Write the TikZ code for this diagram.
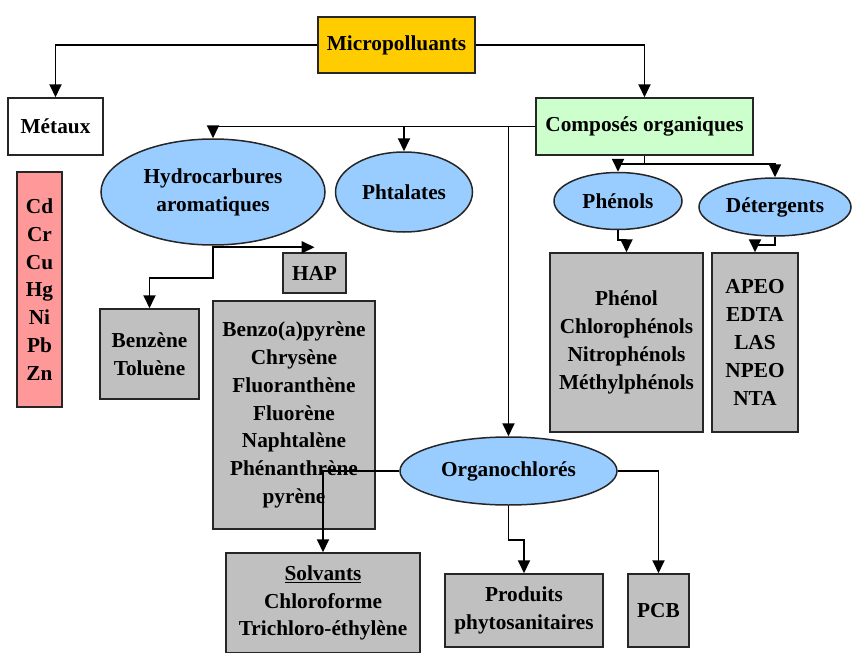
\documentclass[tikz,border=0pt]{standalone}
\usepackage{fontspec}
\setmainfont{Liberation Serif}
\usepackage{tikz}
\usetikzlibrary{shapes.geometric, arrows.meta, positioning}
\definecolor{goldbox}{RGB}{255,204,0}
\definecolor{greenbox}{RGB}{204,255,204}
\definecolor{pinkbox}{RGB}{255,153,153}
\definecolor{greybox}{RGB}{192,192,192}
\definecolor{blueell}{RGB}{153,204,255}
\tikzset{
    box/.style={
        rectangle,
        draw=black!85,
        line width=1.5pt,
        align=center,
        inner sep=0pt
    },
    listbox/.style={
        box,
        fill=greybox
    },
    cloud/.style={
        ellipse,
        draw=black!85,
        line width=1.5pt,
        fill=blueell,
        align=center,
        inner sep=0pt
    },
    conn/.style={
        line width=1.9pt,
        -{Triangle[length=13pt, width=12pt]}
    }
}

\begin{document}
\begin{tikzpicture}[
    x=1pt, y=-1pt,
    every node/.style={font=\fontsize{21.3}{27.8}\selectfont\bfseries}
]
\useasboundingbox (0,0) rectangle (852,653);
% haut
\node[box, fill=goldbox, minimum width=157, minimum height=56] (micro) at (396.5,45) {Micropolluants};
\node[box, fill=white, minimum width=95, minimum height=57] (metaux) at (55.5,126.5) {Métaux};
\node[box, fill=greenbox, minimum width=217, minimum height=57] (comp) at (644.5,126.5) {Composés organiques};
\node[box, fill=pinkbox, minimum width=45, minimum height=235] (metlist) at (39.5,289.5) {Cd\\Cr\\Cu\\Hg\\Ni\\Pb\\Zn};
% familles
\node[cloud, minimum width=224, minimum height=106] (hydro) at (213,192) {Hydrocarbures\\aromatiques};
\node[cloud, minimum width=137, minimum height=80] (phtal) at (404,192) {Phtalates};
\node[cloud, minimum width=128, minimum height=57] (phenols) at (618,201) {Phénols};
\node[cloud, minimum width=152, minimum height=58] (deterg) at (775,207) {Détergents};
\node[cloud, minimum width=217, minimum height=68] (organo) at (508.5,471) {Organochlorés};
% listes
\node[listbox, minimum width=63, minimum height=40] (hap) at (314.5,273) {HAP};
\node[listbox, minimum width=99, minimum height=90] (benz) at (149.5,354) {Benzène\\Toluène};
\node[listbox, minimum width=162, minimum height=228] (haplist) at (294,415) {Benzo(a)pyrène\\Chrysène\\Fluoranthène\\Fluorène\\Naphtalène\\Phénanthrène\\pyrène};
\node[listbox, minimum width=153, minimum height=179] (phenlist) at (626.5,342.5) {Phénol\\Chlorophénols\\Nitrophénols\\Méthylphénols};
\node[listbox, minimum width=86, minimum height=179] (detlist) at (755,342.5) {APEO\\EDTA\\LAS\\NPEO\\NTA};
\node[listbox, minimum width=194, minimum height=100] (solv) at (323,603) {\underline{Solvants}\\Chloroforme\\Trichloro-éthylène};
\node[listbox, minimum width=158, minimum height=73] (prod) at (524,610.5) {Produits\\phytosanitaires};
\node[listbox, minimum width=61, minimum height=73] (pcb) at (658.5,610.5) {PCB};

\draw[conn] (micro.west) -| (metaux.north);
\draw[conn] (micro.east) -| (comp.north);
\draw[conn] (comp.west) -| (hydro.north);
\draw[conn] (comp.west) -| (phtal.north);
\draw[conn] (comp.west) -| (organo.north);
\draw[conn] (comp.south) -- ++(0,8) -| (phenols.north);
\draw[conn] (comp.south) -- ++(0,8) -| (deterg.north);
\draw[conn] (phenols.south) -- ++(0,10) -| (phenlist.north);
\draw[conn] (deterg.south) -- ++(0,8) -| (detlist.north);
\draw[conn] (hydro.south) |- ([yshift=5pt]hap.north);
\draw[conn] (hydro.south) -- ++(0,32) -| (benz.north);
\draw[conn] (organo.west) -| (solv.north);
\draw[conn] (organo.south) -- ++(0,34) -| (prod.north);
\draw[conn] (organo.east) -| (pcb.north);
\end{tikzpicture}
\end{document}
